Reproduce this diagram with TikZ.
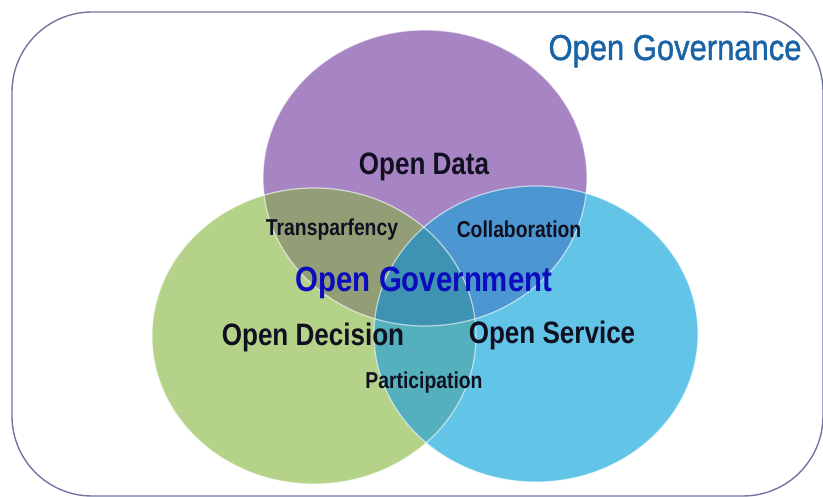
\documentclass[tikz,border=0pt]{standalone}
\usepackage{fontspec}
\setmainfont{Liberation Sans}[FakeStretch=0.84]
\newfontfamily\govfont{Liberation Sans}[FakeStretch=0.86,FakeBold=1.2]
\definecolor{framecol}{RGB}{112,118,160}
\definecolor{datacol}{RGB}{167,132,196}
\definecolor{decisioncol}{RGB}{180,211,136}
\definecolor{servicecol}{RGB}{98,196,230}
\definecolor{datadecision}{RGB}{146,158,118}
\definecolor{dataservice}{RGB}{76,150,210}
\definecolor{decisionservice}{RGB}{84,176,188}
\definecolor{allthree}{RGB}{62,146,178}
\definecolor{labelink}{RGB}{16,16,32}
\definecolor{governanceink}{RGB}{26,100,166}
\definecolor{governmentink}{RGB}{12,12,190}
\begin{document}
\begin{tikzpicture}[x=0.5pt,y=-0.5pt,
  venn/.style={x radius=81pt,y radius=74pt},
  rim/.style={draw=white,draw opacity=.6,line width=.6pt},
  bigtext/.style={anchor=base,text=labelink,font=\bfseries\fontsize{15.5}{18}\selectfont},
  smalltext/.style={anchor=base,text=labelink,font=\bfseries\fontsize{11.5}{14}\selectfont}]
\useasboundingbox (0,0) rectangle (823,497);
\clip (0,0) rectangle (823,497);
% frame
\draw[framecol,line width=.7pt,rounded corners=40pt] (12,12) rectangle (823,496);
% circle centres
\coordinate (cdata) at (425,178);
\coordinate (cdecision) at (314,336);
\coordinate (cservice) at (536,334);
% the three circles
\fill[datacol] (cdata) ellipse [venn];
\fill[decisioncol] (cdecision) ellipse [venn];
\fill[servicecol] (cservice) ellipse [venn];
% overlaps
\begin{scope}
  \clip (cdata) ellipse [venn];
  \fill[datadecision] (cdecision) ellipse [venn];
  \fill[dataservice] (cservice) ellipse [venn];
\end{scope}
\begin{scope}
  \clip (cdecision) ellipse [venn];
  \fill[decisionservice] (cservice) ellipse [venn];
\end{scope}
\begin{scope}
  \clip (cdata) ellipse [venn];
  \clip (cdecision) ellipse [venn];
  \fill[allthree] (cservice) ellipse [venn];
\end{scope}
\path[rim] (cdata) ellipse [venn];
\path[rim] (cdecision) ellipse [venn];
\path[rim] (cservice) ellipse [venn];
% labels
\node[anchor=base,text=governanceink,font=\govfont\fontsize{18}{21}\selectfont] (governance) at (675,60) {Open\ Governance};
\node[bigtext] (data) at (424,175) {Open Data};
\node[bigtext] (decision) at (313,345) {Open Decision};
\node[bigtext] (service) at (552,343) {Open Service};
\node[smalltext] (transparency) at (332,235) {Transparfency};
\node[smalltext] (collaboration) at (519,237) {Collaboration};
\node[smalltext] (participation) at (424,388) {Participation};
\node[anchor=base,text=governmentink,font=\bfseries\fontsize{17.5}{21}\selectfont] (government) at (424,291) {Open Government};
\end{tikzpicture}
\end{document}
